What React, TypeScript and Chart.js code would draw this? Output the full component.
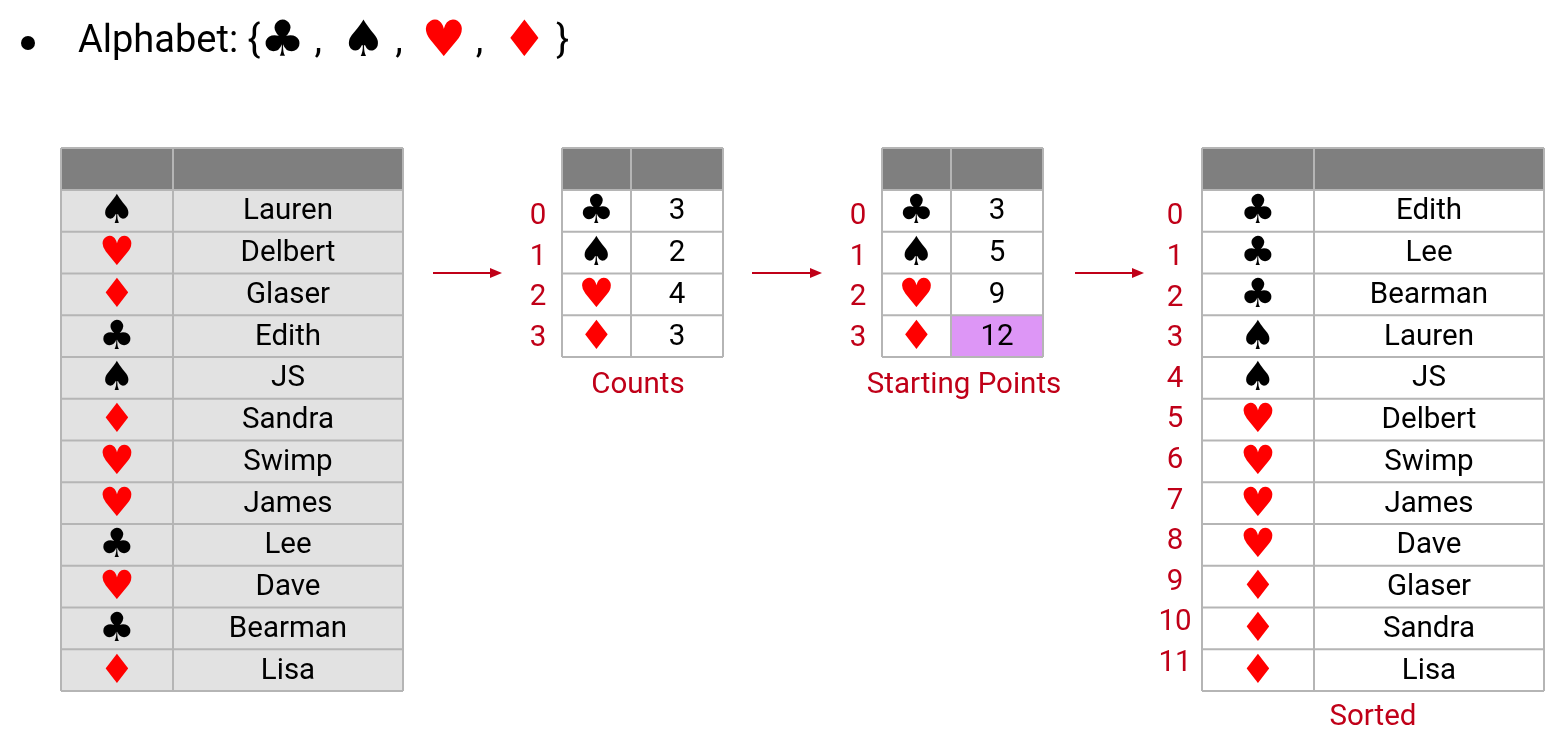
import React, { useEffect, useRef } from "react";
import { Chart, registerables } from "chart.js";
Chart.register(...registerables);

const inputSuits = ["♠", "♥", "♦", "♣", "♠", "♦", "♥", "♥", "♣", "♥", "♣", "♦"];
const inputNames = ["Lauren", "Delbert", "Glaser", "Edith", "JS", "Sandra", "Swimp", "James", "Lee", "Dave", "Bearman", "Lisa"];
const alphabet = ["♣", "♠", "♥", "♦"];
const counts = ["3", "2", "4", "3"];
const startingPoints = ["3", "5", "9", "12"];
const sortedSuits = ["♣", "♣", "♣", "♠", "♠", "♥", "♥", "♥", "♥", "♦", "♦", "♦"];
const sortedNames = ["Edith", "Lee", "Bearman", "Lauren", "JS", "Delbert", "Swimp", "James", "Dave", "Glaser", "Sandra", "Lisa"];

const RED = "#c00018";
const isRed = (s: string) => s === "♥" || s === "♦";

export default function App() {
  const ref = useRef<HTMLCanvasElement>(null);
  useEffect(() => {
    const plugin = {
      id: "tables",
      afterDraw(chart: any) {
        const ctx = chart.ctx as CanvasRenderingContext2D;
        const sx = chart.scales.x, sy = chart.scales.y;
        const X = (v: number) => sx.getPixelForValue(v);
        const Y = (v: number) => sy.getPixelForValue(v);
        const txt = (t: string, x: number, y: number, color: string, size: number, align: CanvasTextAlign = "center", font = "Roboto") => {
          ctx.fillStyle = color;
          ctx.font = `${size}px ${font}`;
          ctx.textAlign = align;
          ctx.textBaseline = "middle";
          ctx.fillText(t, X(x), Y(y));
        };
        const suit = (s: string, x: number, y: number) => txt(s, x, y + 2, isRed(s) ? "#ff0000" : "#000", 40, "center", "DejaVu Sans");
        const table = (x0: number, xs: number, x1: number, rows: [string, string][], bg: string, special?: number) => {
          const top = 148, hh = 42, rh = 41.75;
          ctx.fillStyle = "#7f7f7f";
          ctx.fillRect(X(x0), Y(top), X(x1) - X(x0), Y(top + hh) - Y(top));
          rows.forEach((r, i) => {
            const y = top + hh + i * rh;
            ctx.fillStyle = bg;
            ctx.fillRect(X(x0), Y(y), X(x1) - X(x0), Y(y + rh) - Y(y));
            if (special === i) {
              ctx.fillStyle = "#dd96f6";
              ctx.fillRect(X(xs), Y(y), X(x1) - X(xs), Y(y + rh) - Y(y));
            }
            suit(r[0], (x0 + xs) / 2, y + rh / 2);
            txt(r[1], (xs + x1) / 2, y + rh / 2 + 1, "#000", 29.5);
          });
          const bottom = top + hh + rows.length * rh;
          ctx.strokeStyle = "#b5b5b5";
          ctx.lineWidth = 2;
          ctx.beginPath();
          for (let i = 0; i <= rows.length + 1; i++) {
            const y = i === 0 ? top : top + hh + (i - 1) * rh;
            ctx.moveTo(X(x0), Y(y)); ctx.lineTo(X(x1), Y(y));
          }
          [x0, xs, x1].forEach((x) => { ctx.moveTo(X(x), Y(top)); ctx.lineTo(X(x), Y(bottom)); });
          ctx.stroke();
        };
        const arrow = (a: number, b: number, y: number) => {
          ctx.strokeStyle = RED; ctx.fillStyle = RED; ctx.lineWidth = 2;
          ctx.beginPath(); ctx.moveTo(X(a), Y(y)); ctx.lineTo(X(b - 10), Y(y)); ctx.stroke();
          ctx.beginPath(); ctx.moveTo(X(b), Y(y)); ctx.lineTo(X(b - 12), Y(y - 5)); ctx.lineTo(X(b - 12), Y(y + 5)); ctx.closePath(); ctx.fill();
        };

        // Title line
        ctx.fillStyle = "#000";
        ctx.beginPath(); ctx.arc(X(28), Y(43), 7, 0, Math.PI * 2); ctx.fill();
        ctx.textBaseline = "middle";
        let cx = X(78);
        const put = (t: string, col: string, font: string, dy = 0) => {
          ctx.font = font; ctx.fillStyle = col; ctx.textAlign = "left";
          ctx.fillText(t, cx, Y(42 + dy)); cx += ctx.measureText(t).width;
        };
        put("Alphabet: {", "#000", "38px Roboto");
        alphabet.forEach((s, i) => {
          put(s, isRed(s) ? "#ff0000" : "#000", "50px 'DejaVu Sans'", 1);
          put(i < alphabet.length - 1 ? " ,  " : " }", "#000", "38px Roboto");
        });

        table(61, 173, 403, inputSuits.map((s, i) => [s, inputNames[i]]), "#e2e2e2");
        table(562, 631, 723, alphabet.map((s, i) => [s, counts[i]]), "#fff");
        table(882, 951, 1043, alphabet.map((s, i) => [s, startingPoints[i]]), "#fff", 3);
        table(1202, 1314, 1544, sortedSuits.map((s, i) => [s, sortedNames[i]]), "#fff");

        alphabet.forEach((_, i) => {
          txt(String(i), 538, 217 + i * 40.5, RED, 29.5);
          txt(String(i), 858, 217 + i * 40.5, RED, 29.5);
        });
        sortedNames.forEach((_, i) => txt(String(i), 1175, 217 + i * 40.6, RED, 29.5));
        txt("Counts", 638, 386, RED, 29.5);
        txt("Starting Points", 964, 386, RED, 29.5);
        txt("Sorted", 1373, 718, RED, 29.5);

        arrow(433, 502, 273);
        arrow(752, 822, 273);
        arrow(1075, 1144, 273);
      },
    };
    const chart = new Chart(ref.current!, {
      type: "scatter",
      data: { datasets: [{ data: [] }] },
      options: {
        animation: false,
        responsive: true,
        maintainAspectRatio: false,
        layout: { padding: 0 },
        plugins: { legend: { display: false }, tooltip: { enabled: false } },
        scales: {
          x: { type: "linear", min: 0, max: 1563, display: false },
          y: { type: "linear", min: 0, max: 741, reverse: true, display: false },
        },
      },
      plugins: [plugin],
    });
    return () => chart.destroy();
  }, []);
  return (
    <div style={{ position: "fixed", left: 0, top: 0, width: 1563, height: 741, background: "#fff" }}>
      <canvas ref={ref} />
    </div>
  );
}
